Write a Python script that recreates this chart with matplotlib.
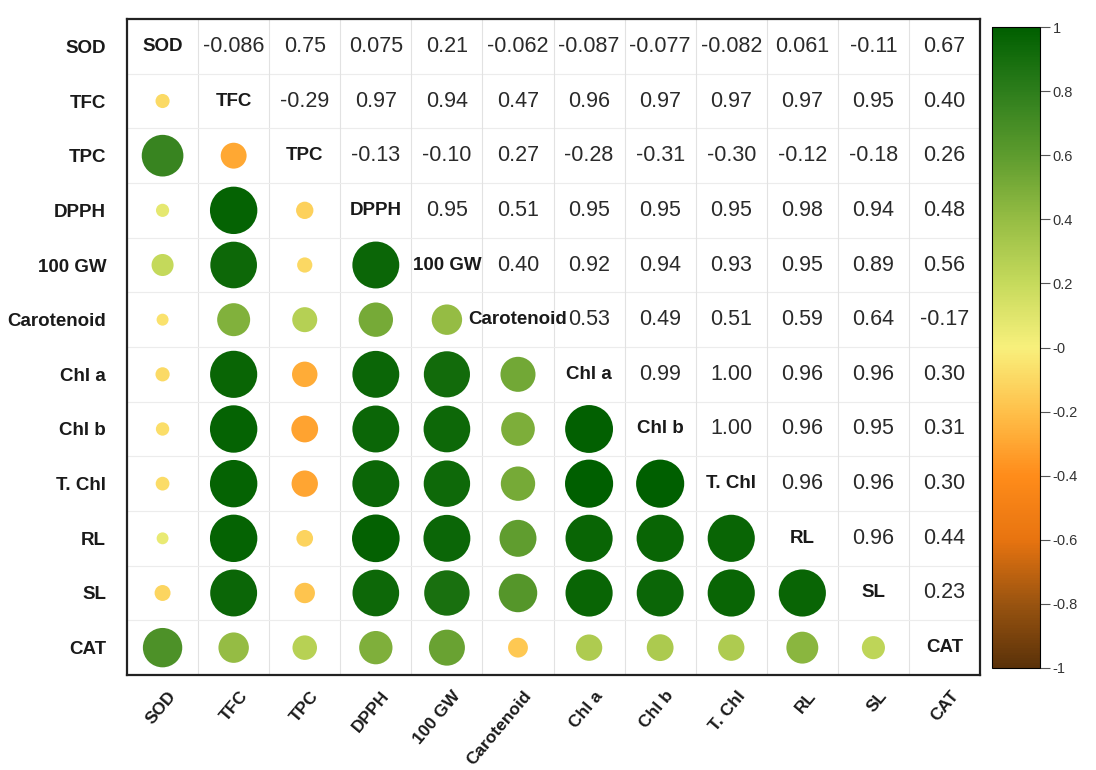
import numpy as np
import matplotlib
matplotlib.use("Agg")
import matplotlib.pyplot as plt
from matplotlib.colors import LinearSegmentedColormap, Normalize
from matplotlib.cm import ScalarMappable
import matplotlib.transforms as mtransforms

plt.rcParams['font.family'] = ['Liberation Sans', 'DejaVu Sans']

traits = ["SOD", "TFC", "TPC", "DPPH", "100 GW", "Carotenoid",
          "Chl a", "Chl b", "T. Chl", "RL", "SL", "CAT"]

# upper triangle, row by row (values to the right of the diagonal)
r_sod = [-0.086, 0.75, 0.075, 0.21, -0.062, -0.087, -0.077, -0.082, 0.061, -0.11, 0.67]
r_tfc = [-0.29, 0.97, 0.94, 0.47, 0.96, 0.97, 0.97, 0.97, 0.95, 0.40]
r_tpc = [-0.13, -0.10, 0.27, -0.28, -0.31, -0.30, -0.12, -0.18, 0.26]
r_dpph = [0.95, 0.51, 0.95, 0.95, 0.95, 0.98, 0.94, 0.48]
r_gw = [0.40, 0.92, 0.94, 0.93, 0.95, 0.89, 0.56]
r_car = [0.53, 0.49, 0.51, 0.59, 0.64, -0.17]
r_chla = [0.99, 1.00, 0.96, 0.96, 0.30]
r_chlb = [1.00, 0.96, 0.95, 0.31]
r_tchl = [0.96, 0.96, 0.30]
r_rl = [0.96, 0.44]
r_sl = [0.23]

upper_rows = [r_sod, r_tfc, r_tpc, r_dpph, r_gw, r_car,
              r_chla, r_chlb, r_tchl, r_rl, r_sl]

n = len(traits)
corr = np.eye(n)
for i, row in enumerate(upper_rows):
    for k, v in enumerate(row):
        j = i + 1 + k
        corr[i, j] = v
        corr[j, i] = v

cmap = LinearSegmentedColormap.from_list("brgr", [
    (0.0, "#5b3209"), (0.1, "#9a5410"), (0.2, "#e87410"), (0.3, "#ff8c1a"),
    (0.4, "#ffc04a"), (0.5, "#f8f07c"), (0.6, "#c6da5c"), (0.7, "#96bd44"),
    (0.8, "#5e9c2e"), (0.9, "#2e7e1c"), (1.0, "#005f00")])
norm = Normalize(-1, 1)

fig = plt.figure(figsize=(10.96, 7.7), dpi=100)
ax = fig.add_axes([0.1159, 0.1234, 0.7783, 0.8519])
ax.set_xlim(-0.5, n - 0.5)
ax.set_ylim(n - 0.5, -0.5)

# cell grid
for k in range(1, n):
    ax.axvline(k - 0.5, color="#e2e2e2", lw=0.8, zorder=0)
    ax.axhline(k - 0.5, color="#ececec", lw=0.8, zorder=0)

# lower triangle: circles scaled by |r|
xs, ys, vs = [], [], []
for i in range(n):
    for j in range(i):
        xs.append(j)
        ys.append(i)
        vs.append(corr[i, j])
vs = np.array(vs)
ax.scatter(xs, ys, s=1200 * np.abs(vs), c=vs, cmap=cmap, norm=norm,
           edgecolors="none", zorder=2)

# upper triangle: coefficients, diagonal: trait names
for i in range(n):
    for j in range(n):
        if i == j:
            ax.text(j, i, traits[i], ha="center", va="center",
                    fontsize=13.5, fontweight="bold", color="#1a1a1a", zorder=3)
        elif j > i:
            v = corr[i, j]
            txt = f"{v:.3f}" if abs(v) < 0.1 else f"{v:.2f}"
            ax.text(j, i, txt, ha="center", va="center",
                    fontsize=15.5, color="#2a2a2a", zorder=3)

ax.set_yticks(range(n))
ax.set_yticklabels(traits, fontsize=13.5, fontweight="bold", color="#1a1a1a")
ax.set_xticks(range(n))
ax.set_xticklabels(traits, fontsize=12.5, fontweight="bold", color="#1a1a1a",
                   rotation=50, ha="right", va="center", rotation_mode="anchor")
ax.tick_params(axis="y", length=0, pad=15)
ax.tick_params(axis="x", length=0, pad=13)
offset = mtransforms.ScaledTranslation(11 / 100, 0, fig.dpi_scale_trans)
for lab in ax.get_xticklabels():
    lab.set_transform(lab.get_transform() + offset)

for sp in ax.spines.values():
    sp.set_linewidth(1.6)
    sp.set_color("#222222")

# colour bar
cax = fig.add_axes([0.9051, 0.1325, 0.0438, 0.8324])
cb = fig.colorbar(ScalarMappable(norm=norm, cmap=cmap), cax=cax)
ticks = np.round(np.arange(-1, 1.01, 0.2), 1)
cb.set_ticks(ticks)
cb.set_ticklabels([f"{t:g}" for t in ticks])
cb.ax.tick_params(length=7, width=0.8, color="#555555", labelsize=10.5,
                  labelcolor="#333333", pad=2)
cb.outline.set_linewidth(0.8)

fig.savefig("out.png", dpi=100)
